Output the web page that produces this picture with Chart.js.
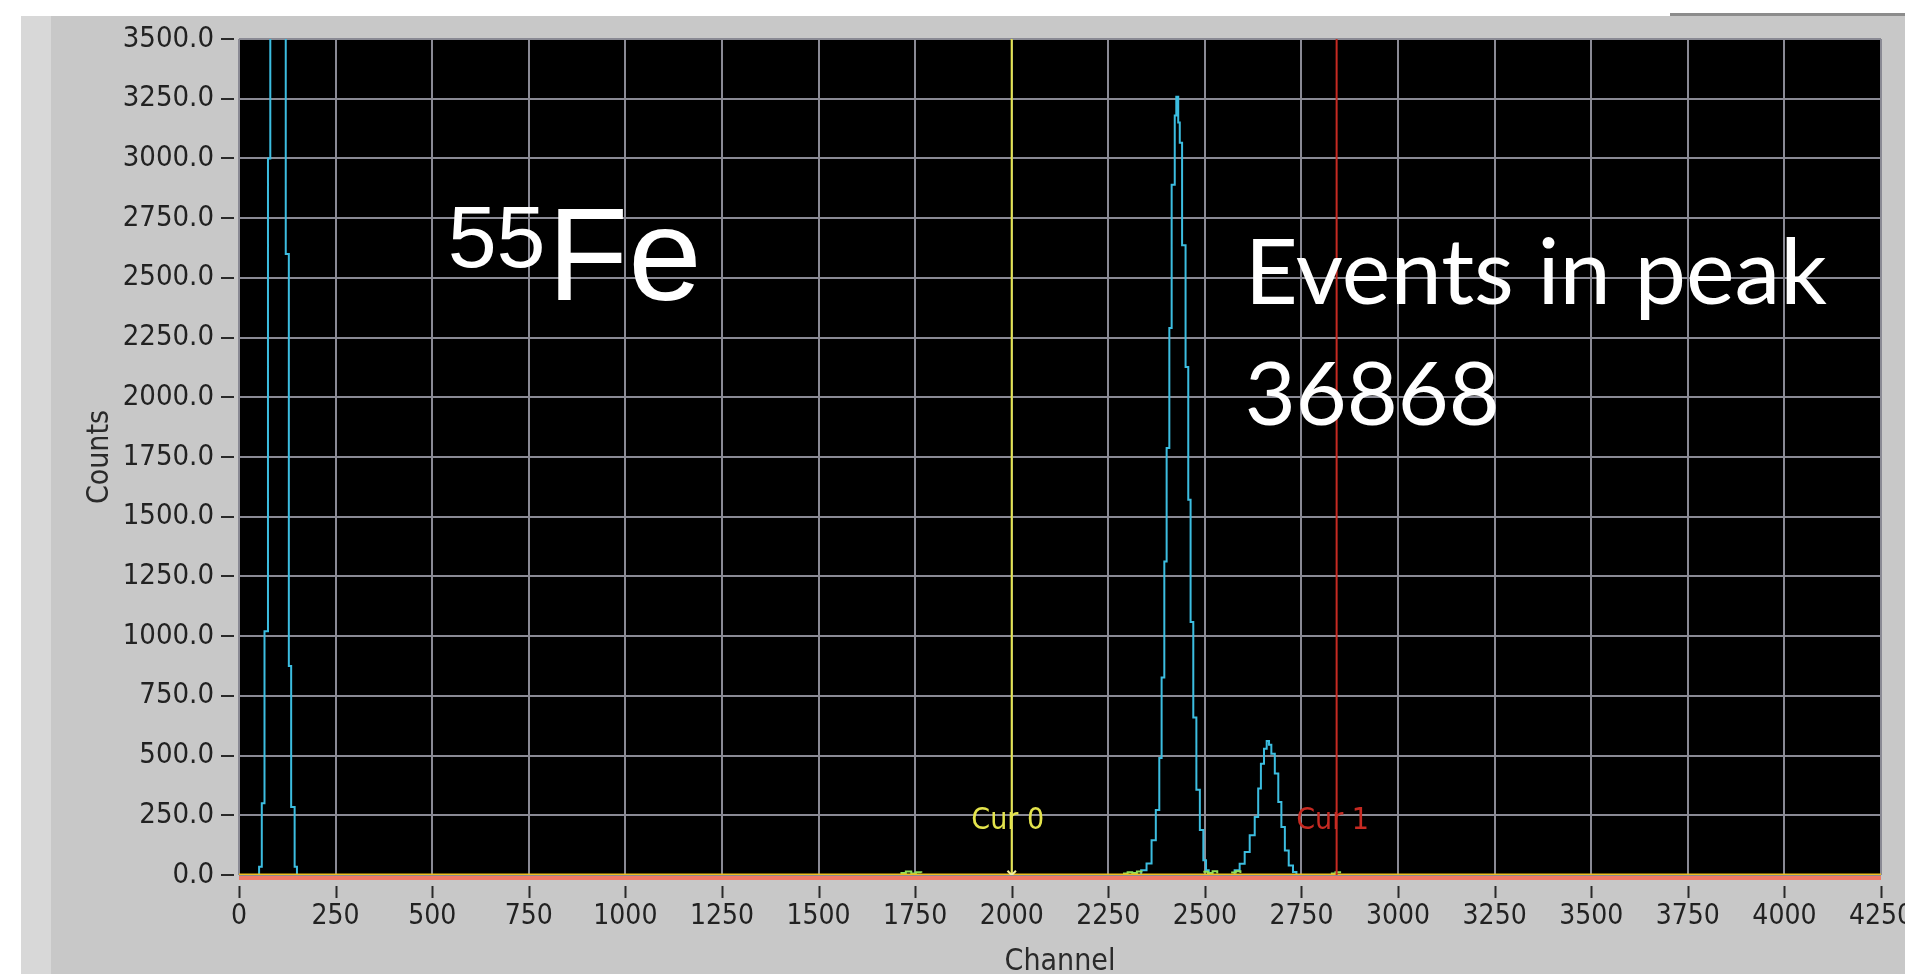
<!DOCTYPE html>
<html>
<head>
<meta charset="utf-8">
<title>55Fe spectrum</title>
<script src="https://cdn.jsdelivr.net/npm/chart.js@4.4.1/dist/chart.umd.min.js"></script>
<style>
  html, body { margin: 0; padding: 0; background: #fff; width: 1905px; height: 974px; overflow: hidden; }
  #panel { position: absolute; left: 21px; top: 16px; width: 1884px; height: 958px; background: #c8c8c8; }
  #strip { position: absolute; left: 21px; top: 16px; width: 30px; height: 958px; background: #d8d8d8; }
  #bar { position: absolute; left: 1670px; top: 13px; width: 235px; height: 3px; background: #8c8c8c; }
  #wrap { position: absolute; left: 0; top: 0; width: 1905px; height: 974px; }
</style>
</head>
<body>
<div id="panel"></div>
<div id="strip"></div>
<div id="bar"></div>
<div id="wrap"><canvas id="spectrum"></canvas></div>
<script>
// histogram bins: left edge channel -> counts (stepped)
var channels = [0, 52, 59, 66, 75, 81, 121, 129, 135, 144, 150,
  2335, 2349, 2362, 2373, 2382, 2388, 2395, 2401, 2408, 2414, 2422, 2426, 2431, 2435,
  2441, 2450, 2457, 2463, 2470, 2478, 2487, 2496, 2503, 2510,
  2577, 2590, 2603, 2616, 2629, 2638, 2645, 2653, 2660, 2666, 2672, 2681, 2690, 2698,
  2707, 2717, 2728, 2737, 4250];
var counts = [0, 35, 300, 1020, 3000, 9000, 2600, 875, 285, 35, 0,
  20, 48, 146, 272, 490, 827, 1312, 1788, 2290, 2890, 3180, 3258, 3150, 3066,
  2636, 2127, 1571, 1059, 659, 357, 188, 62, 20, 0,
  20, 47, 96, 166, 243, 362, 466, 529, 561, 545, 508, 425, 306, 201,
  103, 40, 13, 0, 0];

// low level bits that show green near the baseline
var noiseChannels = [1712, 1726, 1740, 1752, 1766, 1776,
  2288, 2300, 2312, 2324, 2336, 2346,
  2496, 2508, 2520, 2532, 2542,
  2568, 2580, 2592, 2600,
  2826, 2838, 2850, 2858];
var noiseCounts = [8, 15, 6, 12, 9, null,
  6, 12, 8, 15, 10, null,
  14, 8, 16, 6, null,
  10, 16, 8, null,
  6, 12, 7, null];

var cursorChannels = [2000, 2841];
var cursorLabels = ['Cur 0', 'Cur 1'];
var cursorColors = ['#e4e44c', '#c62a22'];

var xTicks = [0, 250, 500, 750, 1000, 1250, 1500, 1750, 2000, 2250, 2500, 2750, 3000, 3250, 3500, 3750, 4000, 4250];
var yTicks = [0, 250, 500, 750, 1000, 1250, 1500, 1750, 2000, 2250, 2500, 2750, 3000, 3250, 3500];

var isotopeMass = '55';
var isotopeName = 'Fe';
var peakText = 'Events in peak';
var peakEvents = 36868;

var condensed = '"DejaVu Sans Condensed", "DejaVu Sans"';

var spectrum = channels.map(function (c, i) { return { x: c, y: counts[i] }; });
var noise = noiseChannels.map(function (c, i) { return { x: c, y: noiseCounts[i] }; });

var datasets = [
  {
    label: 'zero',
    data: [{ x: 0, y: 0 }, { x: 4250, y: 0 }],
    borderColor: '#f0c020',
    borderWidth: 3,
    pointRadius: 0,
    order: 1
  },
  {
    label: 'noise',
    data: noise,
    borderColor: '#8ee05a',
    borderWidth: 2,
    stepped: true,
    spanGaps: false,
    pointRadius: 0,
    order: 2
  },
  {
    label: 'spectrum',
    data: spectrum,
    borderColor: '#3cbde0',
    borderWidth: 2,
    stepped: true,
    pointRadius: 0,
    order: 3
  }
];
cursorChannels.forEach(function (c, i) {
  datasets.push({
    label: cursorLabels[i],
    data: [{ x: c, y: 0 }, { x: c, y: 3500 }],
    borderColor: cursorColors[i],
    backgroundColor: cursorColors[i],
    borderWidth: 2,
    pointStyle: 'crossRot',
    pointRadius: i === 0 ? [6, 0] : [0, 0],
    pointBorderColor: '#f4f0a0',
    order: 0
  });
});

var decor = {
  id: 'decor',
  beforeDraw: function (chart) {
    var a = chart.chartArea, ctx = chart.ctx;
    ctx.save();
    ctx.fillStyle = '#000';
    ctx.fillRect(a.left, a.top, a.right - a.left, a.bottom - a.top);
    ctx.restore();
  },
  afterDraw: function (chart) {
    var a = chart.chartArea, ctx = chart.ctx;
    var xs = chart.scales.x, ys = chart.scales.y;
    ctx.save();
    // salmon baseline under the zero cursor line
    ctx.strokeStyle = '#f27a66';
    ctx.lineWidth = 4;
    ctx.beginPath();
    ctx.moveTo(a.left, ys.getPixelForValue(0) + 3);
    ctx.lineTo(a.right, ys.getPixelForValue(0) + 3);
    ctx.stroke();

    // detached tick marks
    ctx.strokeStyle = '#2a2a2a';
    ctx.lineWidth = 2;
    ctx.beginPath();
    xTicks.forEach(function (v) {
      var px = Math.round(xs.getPixelForValue(v)) + 0.5;
      ctx.moveTo(px, a.bottom + 11);
      ctx.lineTo(px, a.bottom + 23);
    });
    yTicks.forEach(function (v) {
      var py = Math.round(ys.getPixelForValue(v));
      ctx.moveTo(a.left - 18, py);
      ctx.lineTo(a.left - 5, py);
    });
    ctx.stroke();

    // cursor labels
    ctx.font = '30px ' + condensed;
    ctx.textAlign = 'center';
    ctx.textBaseline = 'middle';
    cursorChannels.forEach(function (c, i) {
      ctx.fillStyle = cursorColors[i];
      ctx.fillText(cursorLabels[i], xs.getPixelForValue(c) - 4, ys.getPixelForValue(225));
    });

    // isotope label
    ctx.fillStyle = '#fff';
    ctx.textAlign = 'left';
    ctx.textBaseline = 'alphabetic';
    ctx.font = '88px "Liberation Sans", Arial, sans-serif';
    var x0 = xs.getPixelForValue(540);
    ctx.fillText(isotopeMass, x0, ys.getPixelForValue(2544));
    var w = ctx.measureText(isotopeMass).width;
    ctx.font = '132px "Liberation Sans", Arial, sans-serif';
    ctx.fillText(isotopeName, x0 + w + 2, ys.getPixelForValue(2407));

    // peak events
    var x1 = xs.getPixelForValue(2603);
    ctx.font = '92px Lato, "Open Sans", sans-serif';
    ctx.fillText(peakText, x1, ys.getPixelForValue(2389));
    ctx.font = '88px Lato, "Open Sans", sans-serif';
    ctx.fillText(String(peakEvents), x1, ys.getPixelForValue(1883));
    ctx.restore();
  }
};

new Chart(document.getElementById('spectrum'), {
  type: 'line',
  data: { datasets: datasets },
  options: {
    responsive: true,
    maintainAspectRatio: false,
    animation: false,
    layout: { padding: { left: 0, top: 39, right: 24, bottom: 0 } },
    plugins: { legend: { display: false }, tooltip: { enabled: false } },
    elements: { line: { tension: 0 } },
    scales: {
      x: {
        type: 'linear',
        min: 0,
        max: 4250,
        afterBuildTicks: function (s) { s.ticks = xTicks.map(function (v) { return { value: v }; }); },
        afterFit: function (s) { s.height = 99; s.paddingLeft = 0; s.paddingRight = 0; },
        grid: { color: '#8a8a94', lineWidth: 2, drawTicks: false },
        border: { display: false },
        ticks: {
          font: { family: condensed, size: 28 }, color: '#222', padding: 25, maxRotation: 0, autoSkip: false,
          callback: function (v) { return String(v); }
        },
        title: {
          display: true, text: 'Channel', color: '#2a2a2a',
          font: { family: condensed, size: 30, lineHeight: 0.8 },
          padding: { top: 0, bottom: 0 }
        }
      },
      y: {
        min: 0,
        max: 3500,
        afterBuildTicks: function (s) { s.ticks = yTicks.map(function (v) { return { value: v }; }); },
        afterFit: function (s) { s.width = 239; s.paddingTop = 0; s.paddingBottom = 0; },
        grid: { color: '#8a8a94', lineWidth: 2, drawTicks: false },
        border: { display: false },
        ticks: {
          font: { family: condensed, size: 29 }, color: '#222', padding: 25,
          callback: function (v) { return v.toFixed(1); }
        },
        title: {
          display: true, text: 'Counts', color: '#2a2a2a',
          font: { family: condensed, size: 30 },
          padding: { top: 82, bottom: 0 }
        }
      }
    }
  },
  plugins: [decor]
});
</script>
</body>
</html>
